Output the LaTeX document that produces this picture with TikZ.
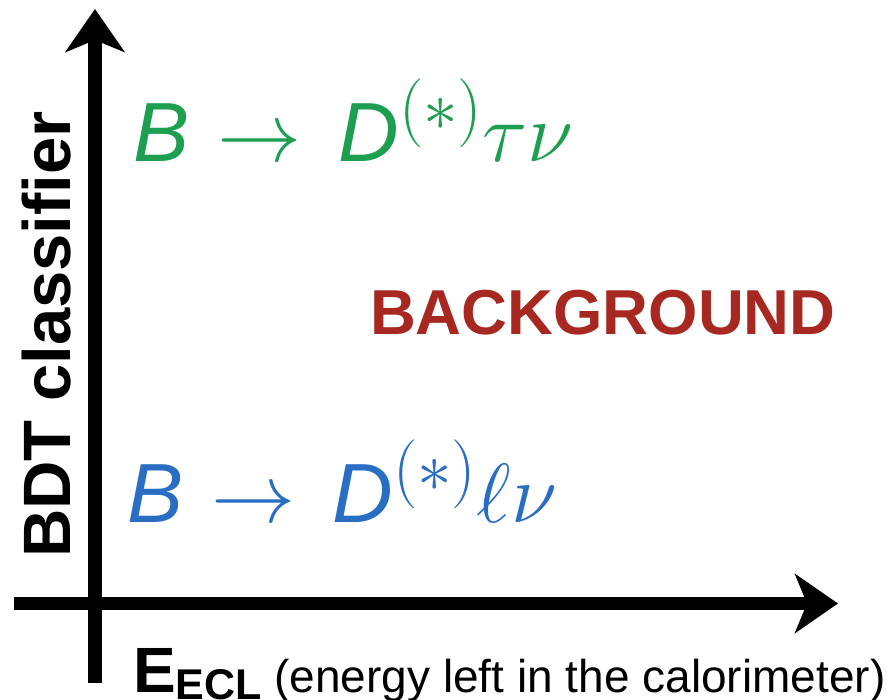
\RequirePackage{fix-cm}
\documentclass[tikz,border=0pt]{standalone}
\usepackage{fontspec}
\setmainfont{Liberation Sans}
\usetikzlibrary{arrows.meta}
\DeclareMathSizes{84}{84}{69}{55}
\definecolor{sigcol}{RGB}{30,158,80}
\definecolor{normcol}{RGB}{42,110,195}
\definecolor{bkgcol}{RGB}{166,40,32}
\newcommand{\decayarrow}{\mkern1mu\rightarrow\mkern3mu}
\begin{document}
\begin{tikzpicture}[x=1pt,y=1pt,
  axisline/.style={line width=13.5pt,-{Stealth[length=43pt,width=59pt,inset=12pt]}},
  lbl/.style={inner sep=0pt,outer sep=0pt,anchor=base west},
  mathlbl/.style={lbl,font=\fontsize{84}{84}\selectfont}]
\useasboundingbox (0,0) rectangle (891,700);
\coordinate (ybot) at (95,17);
\coordinate (ytop) at (95,691);
\coordinate (xleft) at (14,96.5);
\coordinate (xright) at (838,96.5);
\draw[axisline] (xleft) -- (xright);
\draw[axisline] (ybot) -- (ytop);
\node[mathlbl,text=sigcol] (sig) at (133,538)
  {$\textit{B}\decayarrow\textit{D}^{(*)}\tau\nu$};
\node[mathlbl,text=normcol] (norm) at (127,177)
  {$\textit{B}\decayarrow\textit{D}^{(*)}\ell\nu$};
\node[lbl,text=bkgcol,font=\bfseries\fontsize{63.5}{63.5}\selectfont] (bkg) at (370,365) {BACKGROUND};
\node[lbl,rotate=90,font=\bfseries\fontsize{67}{67}\selectfont] (ylab) at (70,142) {BDT classifier};
\node[lbl] (xlab) at (133,7)
  {{\bfseries\fontsize{64}{64}\selectfont E}\raisebox{-7pt}{\bfseries\fontsize{43}{43}\selectfont ECL}\fontsize{46}{46}\selectfont\ (energy left in the calorimeter)};
\end{tikzpicture}
\end{document}
